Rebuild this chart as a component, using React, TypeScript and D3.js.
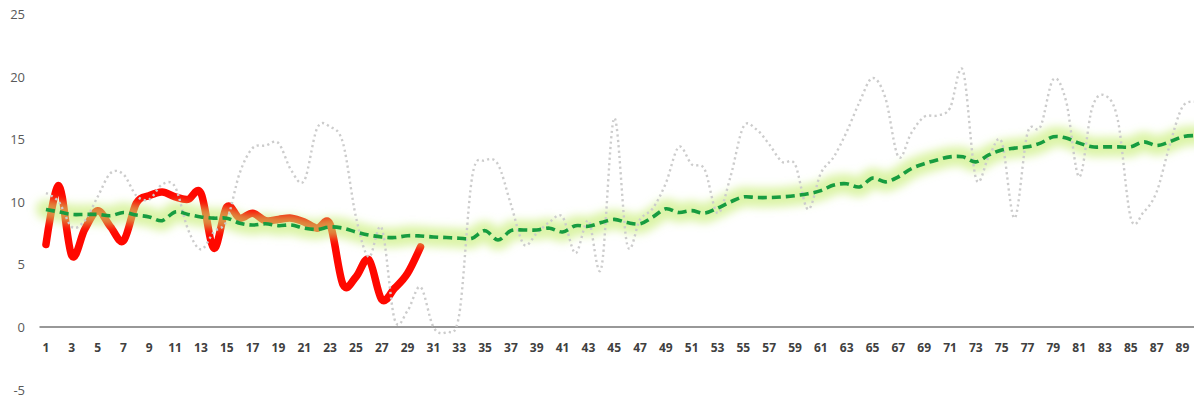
import { useMemo } from "react";
import * as d3 from "d3";

const WIDTH = 1194;
const HEIGHT = 401;

// category labels 1..90
const days: number[] = [
  1, 2, 3, 4, 5, 6, 7, 8, 9, 10, 11, 12, 13, 14, 15, 16, 17, 18, 19, 20,
  21, 22, 23, 24, 25, 26, 27, 28, 29, 30, 31, 32, 33, 34, 35, 36, 37, 38, 39, 40,
  41, 42, 43, 44, 45, 46, 47, 48, 49, 50, 51, 52, 53, 54, 55, 56, 57, 58, 59, 60,
  61, 62, 63, 64, 65, 66, 67, 68, 69, 70, 71, 72, 73, 74, 75, 76, 77, 78, 79, 80,
  81, 82, 83, 84, 85, 86, 87, 88, 89, 90,
];

const yTicks = [-5, 0, 5, 10, 15, 20, 25];

// grey dotted series
const history: number[] = [
  10.7, 10.0, 8.0, 8.5, 10.4, 12.3, 12.2, 10.5, 10.2, 11.4,
  11.2, 7.8, 6.2, 7.6, 8.5, 12.3, 14.3, 14.5, 14.7, 12.5,
  11.7, 15.9, 16.0, 14.7, 8.8, 5.6, 7.9, 0.6, 1.3, 3.2,
  0.0, -0.4, 1.0, 12.0, 13.3, 13.0, 9.8, 6.6, 7.5, 8.4,
  8.8, 5.9, 8.5, 4.7, 16.7, 6.6, 8.6, 9.5, 11.5, 14.4,
  13.0, 12.6, 9.1, 12.0, 16.0, 15.8, 14.6, 13.2, 13.0, 9.4,
  12.3, 13.6, 15.6, 18.0, 19.9, 18.3, 13.6, 15.5, 16.8, 16.9,
  17.5, 20.5, 11.9, 13.6, 14.8, 8.7, 15.5, 16.0, 19.8, 18.0,
  12.0, 17.5, 18.5, 16.5, 8.7, 9.2, 10.8, 14.5, 17.6, 18.0,
];

// red series (first 30 days)
const current: number[] = [
  6.6, 11.3, 5.7, 7.8, 9.3, 8.0, 6.9, 9.9, 10.5, 10.8,
  10.4, 10.2, 10.7, 6.3, 9.6, 8.7, 9.1, 8.5, 8.6, 8.7,
  8.4, 7.9, 8.2, 3.4, 4.0, 5.4, 2.2, 3.1, 4.3, 6.4,
];

// green dashed series
const average: number[] = [
  9.4, 9.2, 9.0, 9.0, 9.0, 8.9, 9.15, 8.95, 8.8, 8.5,
  9.2, 9.0, 8.8, 8.7, 8.7, 8.3, 8.15, 8.25, 8.1, 8.15,
  7.9, 7.8, 8.0, 7.9, 7.6, 7.35, 7.2, 7.15, 7.3, 7.28,
  7.2, 7.15, 7.1, 7.1, 7.7, 6.95, 7.7, 7.75, 7.75, 7.9,
  7.6, 8.1, 8.05, 8.35, 8.6, 8.35, 8.25, 8.8, 9.45, 9.15,
  9.3, 9.1, 9.5, 10.0, 10.4, 10.35, 10.35, 10.4, 10.5, 10.65,
  10.9, 11.35, 11.45, 11.2, 11.9, 11.6, 12.0, 12.65, 13.05, 13.35,
  13.6, 13.6, 13.2, 13.75, 14.15, 14.3, 14.4, 14.7, 15.2, 15.1,
  14.7, 14.4, 14.4, 14.4, 14.4, 14.8, 14.5, 14.8, 15.2, 15.3,
];

export default function App() {
  const xScale = useMemo(
    () =>
      d3
        .scaleBand<number>()
        .domain(days)
        .range([39.5, 39.5 + days.length * 12.915]),
    []
  );
  const yScale = useMemo(
    () => d3.scaleLinear().domain([-5, 25]).range([389.6, 14.2]),
    []
  );

  const cx = (i: number) => (xScale(days[i]) as number) + xScale.bandwidth() / 2;

  const line = d3
    .line<number>()
    .x((_, i) => cx(i))
    .y((d) => yScale(d))
    .curve(d3.curveCardinal.tension(0));

  const greyPath = line(history) || "";
  const redPath = line(current) || "";
  const greenPath = line(average) || "";

  const xLabels = days.filter((d) => d % 2 === 1);

  return (
    <div style={{ position: "absolute", left: 0, top: 0 }}>
      <svg width={WIDTH} height={HEIGHT} style={{ display: "block", background: "#fff" }}>
        <defs>
          <filter id="glow" x="-5%" y="-50%" width="110%" height="200%">
            <feGaussianBlur stdDeviation="4" />
          </filter>
        </defs>

        {/* y tick labels */}
        {yTicks.map((t) => (
          <text
            key={t}
            x={25}
            y={yScale(t)}
            textAnchor="end"
            dominantBaseline="central"
            fontFamily="'Open Sans', 'Liberation Sans', sans-serif"
            fontSize={13}
            fill="#595959"
          >
            {t}
          </text>
        ))}

        {/* x axis */}
        <line
          x1={39.5}
          x2={WIDTH}
          y1={yScale(0)}
          y2={yScale(0)}
          stroke="#767676"
          strokeWidth={1.5}
        />
        {xLabels.map((d) => (
          <text
            key={d}
            x={(xScale(d) as number) + xScale.bandwidth() / 2}
            y={347}
            textAnchor="middle"
            dominantBaseline="central"
            fontFamily="'Open Sans', 'Liberation Sans', sans-serif"
            fontWeight={700}
            fontSize={12}
            fill="#404040"
          >
            {d}
          </text>
        ))}

        {/* red series */}
        <path
          d={redPath}
          fill="none"
          stroke="#ff0800"
          strokeWidth={7.5}
          strokeLinecap="round"
          strokeLinejoin="round"
        />
        {/* glow of the green line */}
        <path
          d={greenPath}
          fill="none"
          stroke="#c4ec6e"
          strokeOpacity={0.6}
          strokeWidth={20}
          strokeLinecap="round"
          filter="url(#glow)"
        />
        {/* grey dotted series */}
        <path
          d={greyPath}
          fill="none"
          stroke="#cccccc"
          strokeWidth={2.4}
          strokeDasharray="2.2 3.2"
        />
        {/* green dashed series */}
        <path
          d={greenPath}
          fill="none"
          stroke="#179c40"
          strokeWidth={3.6}
          strokeDasharray="9 5"
        />
      </svg>
    </div>
  );
}
